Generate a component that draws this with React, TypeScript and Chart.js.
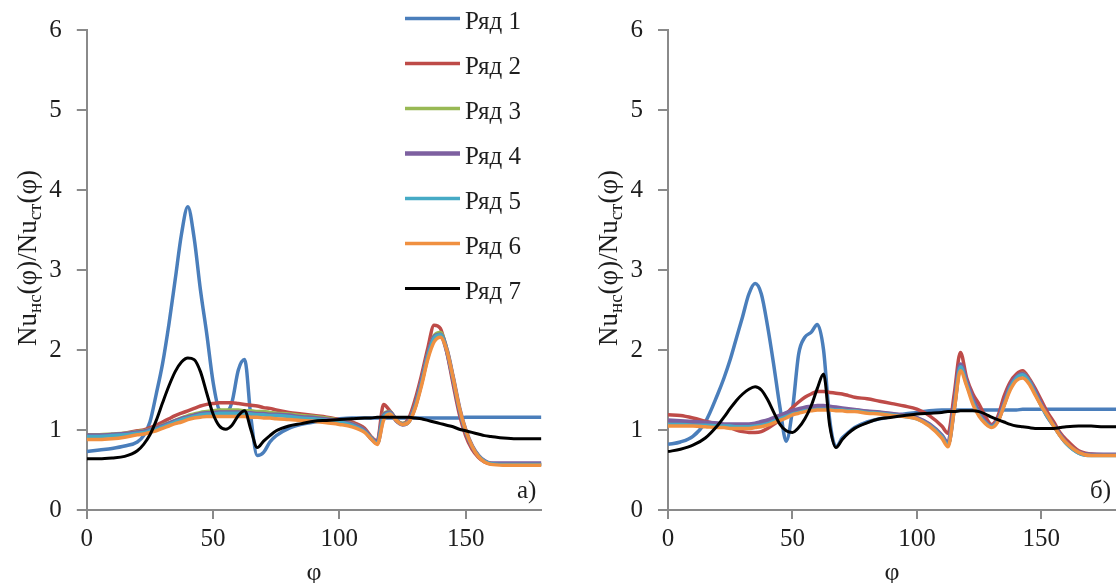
import React, { useEffect, useRef } from 'react';
import { Chart, registerables } from 'chart.js';

Chart.register(...registerables);

// ---------- data ----------
const PHI = [
  0, 5, 10, 15, 20,
  22.5, 25, 27.5, 30, 32.5, 35, 37.5, 40, 42.5, 45, 47.5, 50, 52.5, 55, 57.5, 60, 62.5, 65, 67.5, 70, 72.5, 75,
  80, 85, 90, 95, 100, 105, 110,
  112.5, 115, 117.5, 120, 122.5, 125, 127.5, 130, 132.5, 135, 137.5, 140, 142.5, 145, 147.5, 150, 152.5, 155, 157.5, 160,
  165, 170, 175, 180,
];

const SERIES_NAMES = ['Ряд 1', 'Ряд 2', 'Ряд 3', 'Ряд 4', 'Ряд 5', 'Ряд 6', 'Ряд 7'];
const X_TICKS = [0, 50, 100, 150];
const Y_TICKS = [0, 1, 2, 3, 4, 5, 6];
const X_TITLE = 'φ';
const Y_TITLE_PARTS: [string, boolean][] = [['Nu', false], ['нс', true], ['(φ)/Nu', false], ['ст', true], ['(φ)', false]];
const PANEL_LABELS = ['а)', 'б)'];

// panel a)
const A1 = [
  0.73, 0.75, 0.77, 0.80, 0.85,
  0.93, 1.1, 1.45, 1.83, 2.32, 2.88, 3.45, 3.79, 3.4, 2.75, 2.2, 1.6, 1.25, 1.22, 1.35, 1.75, 1.88, 1.15, 0.68, 0.72, 0.85, 0.93,
  1.02, 1.07, 1.1, 1.12, 1.14, 1.15, 1.15,
  1.15, 1.15, 1.15, 1.15, 1.15, 1.15, 1.15, 1.15, 1.15, 1.15, 1.15, 1.15, 1.15, 1.15, 1.15, 1.16, 1.16, 1.16, 1.16, 1.16,
  1.16, 1.16, 1.16, 1.16,
];
const A2 = [
  0.93, 0.93, 0.94, 0.96, 0.99,
  1.0, 1.03, 1.06, 1.1, 1.14, 1.18, 1.21, 1.24, 1.27, 1.3, 1.32, 1.33, 1.34, 1.34, 1.34, 1.33, 1.32, 1.31, 1.3, 1.28, 1.27, 1.25,
  1.22, 1.2, 1.18, 1.16, 1.13, 1.1, 1.02,
  0.92, 0.86, 1.32, 1.24, 1.12, 1.08, 1.15, 1.38, 1.68, 2.02, 2.31, 2.27, 1.98, 1.58, 1.2, 0.93, 0.76, 0.66, 0.6, 0.58,
  0.57, 0.57, 0.57, 0.57,
];
const A3 = [
  0.94, 0.94, 0.95, 0.96, 0.98,
  0.99, 1.01, 1.03, 1.06, 1.09, 1.12, 1.15, 1.18, 1.2, 1.22, 1.23, 1.24, 1.25, 1.25, 1.25, 1.25, 1.24, 1.24, 1.23, 1.23, 1.22, 1.21,
  1.2, 1.18, 1.17, 1.15, 1.12, 1.08, 1.0,
  0.91, 0.84, 1.2, 1.23, 1.13, 1.08, 1.12, 1.32, 1.62, 1.95, 2.18, 2.22, 2.02, 1.66, 1.27, 0.98, 0.8, 0.68, 0.61, 0.58,
  0.57, 0.57, 0.57, 0.57,
];
const A4 = [
  0.93, 0.93, 0.94, 0.95, 0.97,
  0.98, 1.0, 1.02, 1.05, 1.08, 1.11, 1.14, 1.16, 1.18, 1.2, 1.21, 1.21, 1.22, 1.22, 1.22, 1.22, 1.21, 1.21, 1.2, 1.2, 1.19, 1.19,
  1.18, 1.16, 1.15, 1.13, 1.11, 1.07, 0.99,
  0.9, 0.84, 1.18, 1.22, 1.12, 1.07, 1.11, 1.3, 1.6, 1.93, 2.16, 2.19, 2.0, 1.65, 1.27, 0.99, 0.8, 0.68, 0.61, 0.58,
  0.58, 0.58, 0.58, 0.58,
];
const A5 = [
  0.92, 0.92, 0.93, 0.94, 0.96,
  0.97, 0.99, 1.01, 1.04, 1.07, 1.1, 1.13, 1.15, 1.17, 1.19, 1.2, 1.2, 1.21, 1.21, 1.21, 1.21, 1.2, 1.2, 1.19, 1.19, 1.18, 1.18,
  1.17, 1.15, 1.14, 1.12, 1.1, 1.06, 0.98,
  0.9, 0.83, 1.17, 1.21, 1.12, 1.07, 1.1, 1.29, 1.58, 1.92, 2.15, 2.19, 2.0, 1.65, 1.27, 0.99, 0.8, 0.68, 0.61, 0.58,
  0.57, 0.57, 0.57, 0.57,
];
const A6 = [
  0.88, 0.88, 0.89, 0.91, 0.94,
  0.95, 0.97, 0.99, 1.02, 1.05, 1.08, 1.1, 1.13, 1.15, 1.16, 1.17, 1.17, 1.17, 1.17, 1.17, 1.17, 1.17, 1.16, 1.16, 1.15, 1.15, 1.14,
  1.13, 1.12, 1.11, 1.09, 1.07, 1.04, 0.97,
  0.89, 0.82, 1.12, 1.2, 1.12, 1.07, 1.1, 1.27, 1.55, 1.88, 2.1, 2.16, 2.0, 1.66, 1.28, 1.0, 0.8, 0.67, 0.6, 0.57,
  0.56, 0.56, 0.56, 0.56,
];
const A7 = [
  0.64, 0.64, 0.65, 0.67, 0.74,
  0.82, 0.94, 1.12, 1.34, 1.55, 1.73, 1.85, 1.9, 1.88, 1.73, 1.46, 1.2, 1.05, 1.01, 1.06, 1.18, 1.24, 1.0, 0.78, 0.86, 0.93, 0.99,
  1.05, 1.08, 1.11, 1.12, 1.13, 1.14, 1.15,
  1.15, 1.16, 1.16, 1.16, 1.16, 1.16, 1.16, 1.15, 1.14, 1.12, 1.1, 1.08, 1.06, 1.04, 1.01, 0.99, 0.97, 0.95, 0.93, 0.92,
  0.9, 0.89, 0.89, 0.89,
];

// panel б)
const B1 = [
  0.82, 0.85, 0.92, 1.1, 1.45,
  1.65, 1.88, 2.15, 2.42, 2.7, 2.83, 2.7, 2.3, 1.81, 1.28, 0.86, 1.25, 1.95, 2.16, 2.22, 2.32, 2.0, 1.12, 0.79, 0.9, 0.97, 1.03,
  1.1, 1.14, 1.17, 1.2, 1.22, 1.24, 1.25,
  1.25, 1.25, 1.25, 1.25, 1.25, 1.25, 1.25, 1.25, 1.25, 1.25, 1.25, 1.25, 1.26, 1.26, 1.26, 1.26, 1.26, 1.26, 1.26, 1.26,
  1.26, 1.26, 1.26, 1.26,
];
const B2 = [
  1.19, 1.18, 1.15, 1.11, 1.07,
  1.05, 1.03, 1.0, 0.98, 0.97, 0.97, 0.98, 1.02, 1.07, 1.13, 1.2, 1.28, 1.35, 1.41, 1.45, 1.48, 1.48, 1.47, 1.46, 1.45, 1.43, 1.41,
  1.39, 1.36, 1.33, 1.3, 1.26, 1.18, 1.05,
  0.96, 1.45, 1.97, 1.65, 1.45, 1.32, 1.17, 1.07, 1.17, 1.42, 1.6, 1.7, 1.74, 1.65, 1.52, 1.37, 1.22, 1.1, 0.97, 0.88,
  0.74, 0.7, 0.69, 0.69,
];
const B3 = [
  1.08, 1.08, 1.07, 1.07, 1.06,
  1.06, 1.05, 1.05, 1.05, 1.05, 1.06, 1.07, 1.09, 1.12, 1.15, 1.18, 1.21, 1.23, 1.25, 1.26, 1.27, 1.27, 1.27, 1.26, 1.26, 1.25, 1.25,
  1.23, 1.22, 1.2, 1.18, 1.15, 1.07, 0.93,
  0.82, 1.28, 1.8, 1.58, 1.36, 1.2, 1.1, 1.05, 1.12, 1.32, 1.54, 1.66, 1.71, 1.63, 1.48, 1.32, 1.17, 1.06, 0.94, 0.84,
  0.72, 0.69, 0.69, 0.69,
];
const B4 = [
  1.12, 1.11, 1.1, 1.09, 1.08,
  1.07, 1.07, 1.07, 1.07, 1.07, 1.08, 1.1, 1.12, 1.15, 1.18, 1.21, 1.24, 1.26, 1.28, 1.29, 1.3, 1.3, 1.29, 1.28, 1.27, 1.26, 1.25,
  1.23, 1.22, 1.2, 1.18, 1.15, 1.07, 0.93,
  0.83, 1.3, 1.82, 1.6, 1.38, 1.22, 1.1, 1.05, 1.12, 1.33, 1.55, 1.66, 1.7, 1.62, 1.48, 1.32, 1.17, 1.06, 0.94, 0.84,
  0.72, 0.69, 0.69, 0.69,
];
const B5 = [
  1.07, 1.07, 1.06, 1.06, 1.05,
  1.05, 1.05, 1.04, 1.04, 1.04, 1.05, 1.06, 1.08, 1.11, 1.14, 1.17, 1.2, 1.22, 1.24, 1.25, 1.26, 1.26, 1.26, 1.25, 1.25, 1.24, 1.24,
  1.22, 1.21, 1.19, 1.17, 1.14, 1.06, 0.92,
  0.81, 1.27, 1.79, 1.57, 1.35, 1.19, 1.09, 1.04, 1.11, 1.31, 1.53, 1.65, 1.69, 1.61, 1.46, 1.3, 1.16, 1.05, 0.93, 0.83,
  0.71, 0.68, 0.68, 0.68,
];
const B6 = [
  1.05, 1.05, 1.05, 1.04, 1.03,
  1.03, 1.02, 1.02, 1.02, 1.02, 1.03, 1.04, 1.06, 1.09, 1.12, 1.15, 1.19, 1.21, 1.23, 1.24, 1.25, 1.25, 1.25, 1.24, 1.24, 1.23, 1.23,
  1.21, 1.2, 1.18, 1.17, 1.14, 1.05, 0.9,
  0.79, 1.25, 1.74, 1.55, 1.32, 1.17, 1.08, 1.03, 1.1, 1.3, 1.5, 1.62, 1.65, 1.58, 1.44, 1.3, 1.18, 1.05, 0.93, 0.84,
  0.72, 0.68, 0.68, 0.68,
];
const B7 = [
  0.73, 0.76, 0.81, 0.9, 1.06,
  1.16, 1.27, 1.37, 1.45, 1.51, 1.54, 1.5, 1.38, 1.22, 1.07, 0.99, 0.97, 1.03, 1.14, 1.3, 1.52, 1.7, 1.05, 0.78, 0.88, 0.96, 1.02,
  1.09, 1.14, 1.16, 1.18, 1.2, 1.21, 1.22,
  1.23, 1.23, 1.24, 1.24, 1.24, 1.23, 1.2, 1.16, 1.13, 1.1, 1.07, 1.05, 1.04, 1.03, 1.02, 1.02, 1.02, 1.02, 1.03, 1.04,
  1.05, 1.05, 1.04, 1.04,
];

const PANEL_A = [A1, A2, A3, A4, A5, A6, A7];
const PANEL_B = [B1, B2, B3, B4, B5, B6, B7];

// ---------- style ----------
const COLORS = ['#4A7EBB', '#BE4B48', '#98B954', '#7D60A0', '#46AAC5', '#F09040', '#000000'];
const WIDTHS = [3.5, 3.5, 3.5, 4.5, 3.5, 3.5, 3];
const FONT = "'Liberation Serif', 'Times New Roman', serif";
const AXIS = '#8a8a8a';
const TEXT = '#1e1e1e';

const font = (size: number) => `${size}px ${FONT}`;

const decorPlugin = {
  id: 'decor',
  afterDraw(chart: any, _args: any, o: any) {
    const { ctx, chartArea: ca } = chart;
    ctx.save();
    ctx.fillStyle = TEXT;

    // y-axis title with subscripts
    ctx.save();
    ctx.translate(ca.left - 51, 258);
    ctx.rotate(-Math.PI / 2);
    ctx.textBaseline = 'alphabetic';
    ctx.textAlign = 'left';
    let total = 0;
    for (const [t, sub] of Y_TITLE_PARTS) {
      ctx.font = font(sub ? 19 : 27);
      total += ctx.measureText(t).width;
    }
    let x = -total / 2;
    for (const [t, sub] of Y_TITLE_PARTS) {
      ctx.font = font(sub ? 19 : 27);
      ctx.fillText(t, x, sub ? 5 : 0);
      x += ctx.measureText(t).width;
    }
    ctx.restore();

    // x-axis title
    ctx.font = font(26);
    ctx.textAlign = 'center';
    ctx.textBaseline = 'alphabetic';
    ctx.fillText(X_TITLE, (ca.left + ca.right) / 2, 580);

    // panel label
    ctx.font = font(25);
    ctx.textAlign = 'right';
    ctx.fillText(o.panel, ca.right - 5, ca.bottom - 12.5);

    // legend
    if (o.legend) {
      chart.data.datasets.forEach((ds: any, i: number) => {
        const y = 18.5 + 45 * i;
        ctx.strokeStyle = ds.borderColor;
        ctx.lineWidth = ds.borderWidth;
        ctx.beginPath();
        ctx.moveTo(405, y);
        ctx.lineTo(460, y);
        ctx.stroke();
        ctx.font = font(25);
        ctx.textAlign = 'left';
        ctx.fillStyle = TEXT;
        ctx.fillText(ds.label, 465, y + 10);
      });
    }
    ctx.restore();
  },
};

function makeChart(
  canvas: HTMLCanvasElement,
  series: number[][],
  cfg: { yWidth: number; padRight: number; panel: string; legend: boolean }
) {
  const datasets = series.map((vals, i) => ({
    label: SERIES_NAMES[i],
    data: PHI.map((p, j) => ({ x: p, y: vals[j] })),
    borderColor: COLORS[i],
    backgroundColor: COLORS[i],
    borderWidth: WIDTHS[i],
    pointRadius: 0,
    fill: false,
    cubicInterpolationMode: 'monotone' as const,
    order: series.length - i,
  }));

  return new Chart(canvas, {
    type: 'line',
    data: { datasets },
    plugins: [decorPlugin],
    options: {
      responsive: false,
      animation: false,
      events: [],
      layout: { padding: { top: 24, left: 0, right: cfg.padRight, bottom: 0 } },
      scales: {
        x: {
          type: 'linear',
          min: 0,
          max: 180,
          afterBuildTicks: (s: any) => {
            s.ticks = X_TICKS.map((v) => ({ value: v }));
          },
          afterFit: (s: any) => {
            s.height = 73;
          },
          grid: { display: true, drawOnChartArea: false, drawTicks: true, tickLength: 9, color: AXIS, lineWidth: 2 },
          border: { display: true, color: AXIS, width: 2 },
          ticks: { font: { family: FONT, size: 25 }, color: TEXT, padding: 5, maxRotation: 0, autoSkip: false },
        },
        y: {
          type: 'linear',
          min: 0,
          max: 6,
          afterBuildTicks: (s: any) => {
            s.ticks = Y_TICKS.map((v) => ({ value: v }));
          },
          afterFit: (s: any) => {
            s.width = cfg.yWidth;
          },
          grid: { display: true, drawOnChartArea: false, drawTicks: true, tickLength: 10, color: AXIS, lineWidth: 2 },
          border: { display: true, color: AXIS, width: 2 },
          ticks: { font: { family: FONT, size: 25 }, color: TEXT, padding: 15, autoSkip: false },
        },
      },
      plugins: {
        legend: { display: false },
        tooltip: { enabled: false },
        // @ts-ignore
        decor: { panel: cfg.panel, legend: cfg.legend },
      },
    } as any,
  });
}

export default function App() {
  const leftRef = useRef<HTMLCanvasElement>(null);
  const rightRef = useRef<HTMLCanvasElement>(null);

  useEffect(() => {
    const a = makeChart(leftRef.current!, PANEL_A, { yWidth: 86.8, padRight: 18.6, panel: PANEL_LABELS[0], legend: true });
    const b = makeChart(rightRef.current!, PANEL_B, { yWidth: 108, padRight: 0, panel: PANEL_LABELS[1], legend: false });
    return () => {
      a.destroy();
      b.destroy();
    };
  }, []);

  return (
    <div
      style={{
        position: 'absolute',
        left: 0,
        top: 0,
        width: 1116,
        height: 583,
        overflow: 'hidden',
        background: '#ffffff',
      }}
    >
      <canvas ref={leftRef} width={560} height={583} style={{ position: 'absolute', left: 0, top: 0 }} />
      <canvas ref={rightRef} width={556} height={583} style={{ position: 'absolute', left: 560, top: 0 }} />
    </div>
  );
}
